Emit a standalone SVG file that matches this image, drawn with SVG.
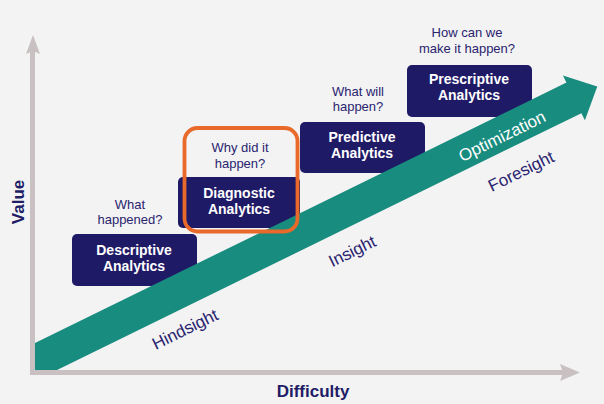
<svg xmlns="http://www.w3.org/2000/svg" width="604" height="404" viewBox="0 0 604 404">
  <defs>
    <style>
      .box { fill: #1f1a66; }
      .boxlabel { font-family: "Liberation Sans", Arial, sans-serif; font-weight: bold; font-size: 14px; fill: #ffffff; text-anchor: middle; }
      .question { font-family: "Liberation Sans", Arial, sans-serif; font-size: 13px; fill: #2a2470; text-anchor: middle; }
      .phase { font-family: "Liberation Sans", Arial, sans-serif; font-size: 17px; fill: #2a2470; text-anchor: middle; }
      .axislabel { font-family: "Liberation Sans", Arial, sans-serif; font-weight: bold; font-size: 17px; fill: #211c66; text-anchor: middle; }
      .axis { stroke: #c9c1c1; stroke-width: 5; fill: none; }
      .axishead { fill: #c9c1c1; }
    </style>
    <clipPath id="plotArea">
      <rect x="35" y="0" width="600" height="370"/>
    </clipPath>
  </defs>

  <rect x="0" y="0" width="604" height="404" fill="#f3f3f3"/>

  <g id="connectors">
    <line class="axis" x1="32.5" y1="50" x2="32.5" y2="374.5"/>
    <polygon class="axishead" points="33,35 40,54 33,51 26,54"/>
    <line class="axis" x1="30" y1="372.5" x2="564" y2="372.5"/>
    <polygon class="axishead" points="580,372.5 560,364 563,372.5 560,381"/>
  </g>

  <g id="descriptive">
    <text class="question" x="130" y="209">What</text>
    <text class="question" x="130" y="224">happened?</text>
    <rect class="box" x="72" y="234" width="125" height="52" rx="5"/>
    <text class="boxlabel" x="134" y="255">Descriptive</text>
    <text class="boxlabel" x="134" y="271">Analytics</text>
  </g>

  <g id="diagnostic-box">
    <rect class="box" x="178" y="177" width="122" height="51" rx="5"/>
    <text class="boxlabel" x="239" y="198">Diagnostic</text>
    <text class="boxlabel" x="239" y="214">Analytics</text>
  </g>

  <g id="predictive">
    <text class="question" x="358" y="96">What will</text>
    <text class="question" x="358" y="111">happen?</text>
    <rect class="box" x="300" y="122" width="125" height="51" rx="5"/>
    <text class="boxlabel" x="362" y="142">Predictive</text>
    <text class="boxlabel" x="362" y="158">Analytics</text>
  </g>

  <g id="prescriptive">
    <text class="question" x="467" y="37">How can we</text>
    <text class="question" x="467" y="53">make it happen?</text>
    <rect class="box" x="407" y="65" width="125" height="52" rx="5"/>
    <text class="boxlabel" x="469" y="84">Prescriptive</text>
    <text class="boxlabel" x="469" y="100">Analytics</text>
  </g>

  <g id="trend-arrow">
    <g clip-path="url(#plotArea)">
      <polygon transform="translate(36,361.4) rotate(-26.1)" fill="#188c7f"
        points="-60,-17 599,-17 599,-25 625,0 599,25 599,17 -60,17"/>
    </g>
    <text class="phase" transform="translate(502,136) rotate(-26.1)" x="0" y="6" style="fill:#ffffff">Optimization</text>
  </g>

  <g id="diagnostic">
    <rect x="184.5" y="128" width="113" height="103.5" rx="13" fill="none" stroke="#e8692a" stroke-width="3.8"/>
    <text class="question" x="240" y="152">Why did it</text>
    <text class="question" x="240" y="168">happen?</text>
  </g>

  <g id="phases">
    <text class="phase" transform="translate(185,329) rotate(-26.1)" x="0" y="6">Hindsight</text>
    <text class="phase" transform="translate(352,251) rotate(-26.1)" x="0" y="6">Insight</text>
    <text class="phase" transform="translate(521,171) rotate(-26.1)" x="0" y="6">Foresight</text>
  </g>

  <g id="axis-labels">
    <text class="axislabel" x="313" y="397">Difficulty</text>
    <text class="axislabel" transform="translate(23.5,202) rotate(-90)" x="0" y="0">Value</text>
  </g>
</svg>
